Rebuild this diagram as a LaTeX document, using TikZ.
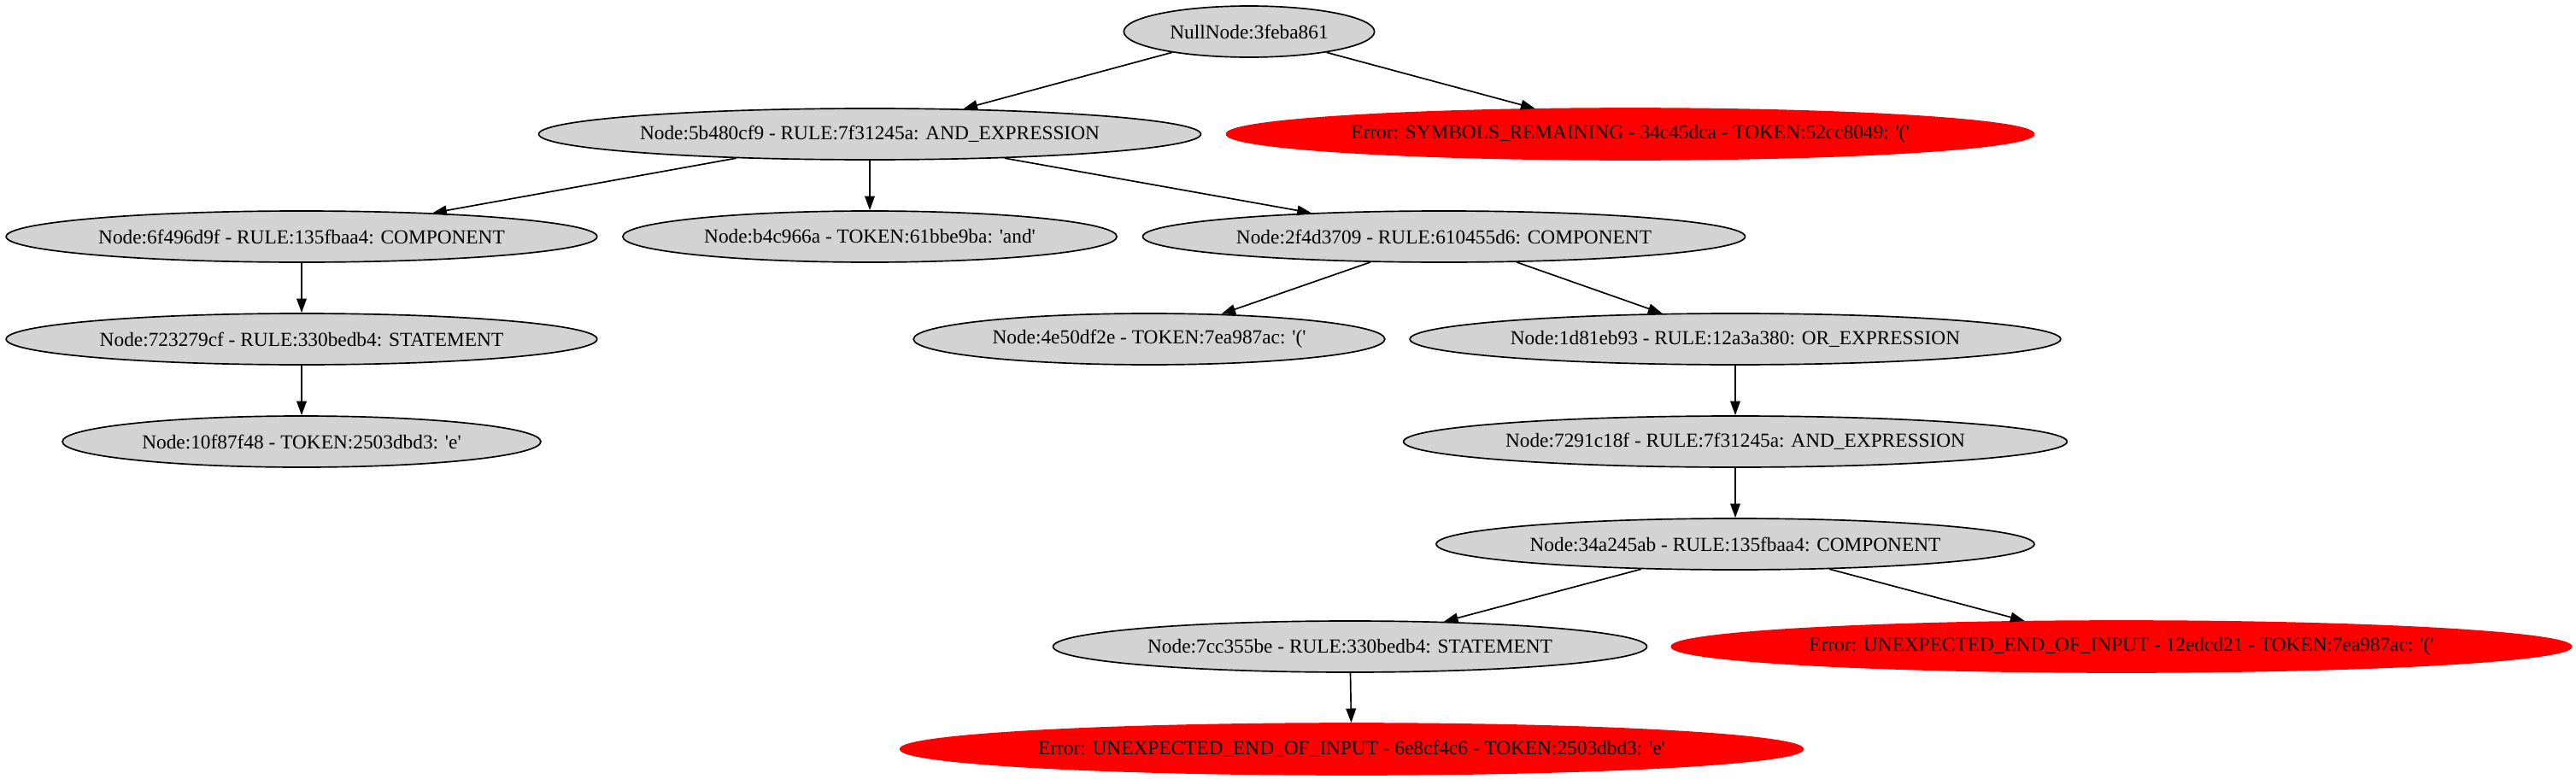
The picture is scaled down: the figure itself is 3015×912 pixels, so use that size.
\documentclass[tikz,border=0pt]{standalone}
\usepackage{fontspec}
\setmainfont{Liberation Serif}
\usetikzlibrary{shapes.geometric,arrows.meta}
\definecolor{nodegray}{HTML}{D3D3D3}
\definecolor{errred}{HTML}{FF0000}
\newcommand{\sq}{\textquotesingle}
\tikzset{
  gnode/.style={ellipse, draw=black, line width=1pt, fill=nodegray, inner sep=0pt,
    minimum height=36pt, font=\fontsize{14}{16}\selectfont},
  enode/.style={ellipse, draw=errred, line width=1pt, fill=errred, inner sep=0pt,
    minimum height=36pt, font=\fontsize{14}{16}\selectfont},
  conn/.style={-{Triangle[length=10pt,width=7pt]}, line width=1pt, draw=black}
}
\begin{document}
\begin{tikzpicture}[x=0.6pt,y=-0.6pt]
\useasboundingbox (0,0) rectangle (3015,912);
% row 1
\node[gnode, minimum width=176pt] (n0) at (1462,37) {NullNode:3feba861};
% row 2
\node[gnode, minimum width=465pt] (n1) at (1018,157) {Node:5b480cf9 - RULE:7f31245a: AND\_EXPRESSION};
\node[enode, minimum width=567pt] (e1) at (1908,157) {Error: SYMBOLS\_REMAINING - 34c45dca - TOKEN:52cc8049: \sq(\sq};
% row 3
\node[gnode, minimum width=415pt] (n2) at (353,277) {Node:6f496d9f - RULE:135fbaa4: COMPONENT};
\node[gnode, minimum width=347pt] (n3) at (1018,277) {Node:b4c966a - TOKEN:61bbe9ba: \sq and\sq};
\node[gnode, minimum width=423pt] (n4) at (1690,277) {Node:2f4d3709 - RULE:610455d6: COMPONENT};
% row 4
\node[gnode, minimum width=415pt] (n5) at (353,397) {Node:723279cf - RULE:330bedb4: STATEMENT};
\node[gnode, minimum width=331pt] (n6) at (1345,397) {Node:4e50df2e - TOKEN:7ea987ac: \sq(\sq};
\node[gnode, minimum width=457pt] (n7) at (2031,397) {Node:1d81eb93 - RULE:12a3a380: OR\_EXPRESSION};
% row 5
\node[gnode, minimum width=336pt] (n8) at (353,517) {Node:10f87f48 - TOKEN:2503dbd3: \sq e\sq};
\node[gnode, minimum width=466pt] (n9) at (2031,517) {Node:7291c18f - RULE:7f31245a: AND\_EXPRESSION};
% row 6
\node[gnode, minimum width=420pt] (n10) at (2031,637) {Node:34a245ab - RULE:135fbaa4: COMPONENT};
% row 7
\node[gnode, minimum width=417pt] (n11) at (1580,757) {Node:7cc355be - RULE:330bedb4: STATEMENT};
\node[enode, minimum width=632pt] (e2) at (2483,757) {Error: UNEXPECTED\_END\_OF\_INPUT - 12edcd21 - TOKEN:7ea987ac: \sq(\sq};
% row 8
\node[enode, minimum width=634pt] (e3) at (1582,877) {Error: UNEXPECTED\_END\_OF\_INPUT - 6e8cf4c6 - TOKEN:2503dbd3: \sq e\sq};
% edges
\draw[conn] (n0) -- (n1);
\draw[conn] (n0) -- (e1);
\draw[conn] (n1) -- (n2);
\draw[conn] (n1) -- (n3);
\draw[conn] (n1) -- (n4);
\draw[conn] (n2) -- (n5);
\draw[conn] (n5) -- (n8);
\draw[conn] (n4) -- (n6);
\draw[conn] (n4) -- (n7);
\draw[conn] (n7) -- (n9);
\draw[conn] (n9) -- (n10);
\draw[conn] (n10) -- (n11);
\draw[conn] (n10) -- (e2);
\draw[conn] (n11) -- (e3);
\end{tikzpicture}
\end{document}
